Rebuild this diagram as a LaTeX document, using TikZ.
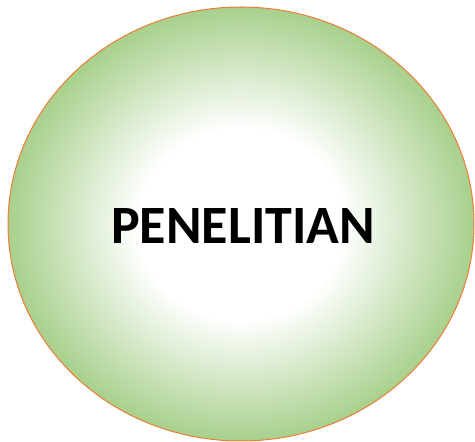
\documentclass[tikz,border=0pt]{standalone}
\usepackage{fontspec}
\setmainfont{Carlito}
\usetikzlibrary{shapes.geometric}
\definecolor{edgegreen}{RGB}{168,208,141}
\definecolor{lineorange}{RGB}{237,125,49}
\pgfdeclareradialshading{softglow}{\pgfpoint{0bp}{0bp}}{color(0bp)=(white); color(11bp)=(white); color(25bp)=(edgegreen); color(50bp)=(edgegreen)}
\begin{document}
\begin{tikzpicture}[x=1pt,y=1pt,
  blob/.style={ellipse, draw=lineorange, line width=1pt, shading=softglow, minimum width=466pt, minimum height=434pt, inner sep=0pt},
  title/.style={font=\bfseries\fontsize{54}{58}\selectfont, text=black}]
\useasboundingbox (0,0) rectangle (475,442);
\node[blob] (circ) at (241,218) {};
\node[title] (lbl) at (243,216) {PENELITIAN};
\end{tikzpicture}
\end{document}
